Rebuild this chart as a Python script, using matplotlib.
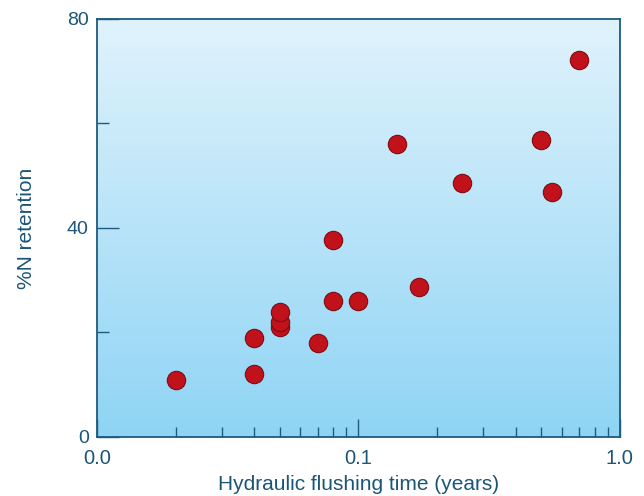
import numpy as np
import matplotlib.pyplot as plt
from matplotlib.colors import LinearSegmentedColormap

plt.rcParams['font.family'] = ['Liberation Sans', 'DejaVu Sans']

# flushing time (years) and %N retention
flush_time = [0.02, 0.04, 0.04, 0.05, 0.05, 0.05, 0.07, 0.08, 0.08,
              0.10, 0.14, 0.17, 0.25, 0.50, 0.55, 0.70]
n_retention = [11.0, 12.0, 19.0, 21.0, 22.0, 24.0, 18.0, 26.0, 37.7,
               26.0, 56.0, 28.7, 48.6, 56.8, 46.9, 72.2]

x_ticks = [0.01, 0.1, 1.0]
x_ticklabels = ['0.0', '0.1', '1.0']
y_ticks = [0, 40, 80]

txt = '#1b5577'
edge = '#1f5a7c'

fig = plt.figure(figsize=(6.44, 4.96), dpi=100)
ax = fig.add_axes([0.1506, 0.119, 0.812, 0.8427])

# vertical gradient background
cmap = LinearSegmentedColormap.from_list('bg', ['#8fd4f5', '#e0f3fc'])
grad = np.linspace(0, 1, 256).reshape(-1, 1)
ax.imshow(grad, aspect='auto', cmap=cmap, origin='lower',
          extent=[0, 1, 0, 1], transform=ax.transAxes, zorder=0)

ax.scatter(flush_time, n_retention, s=175, color='#c1121c',
           edgecolors='#7d0c12', linewidths=0.8, zorder=3)

ax.set_xscale('log')
ax.set_xlim(0.01, 1.0)
ax.set_ylim(0, 80)

ax.set_xticks(x_ticks)
ax.set_xticklabels(x_ticklabels)
minors = [v * d for d in (0.01, 0.1) for v in range(2, 10)]
ax.set_xticks(minors, minor=True)
ax.set_yticks(y_ticks)
ax.set_yticks([20, 60], minor=True)

ax.tick_params(axis='x', which='major', direction='in', length=13, width=1,
               color=edge, labelcolor=txt, labelsize=14.5, pad=9)
ax.tick_params(axis='x', which='minor', direction='in', length=7.2, width=1,
               color=edge)
ax.tick_params(axis='y', which='major', direction='in', length=16, width=1,
               color=edge, labelcolor=txt, labelsize=14, pad=6)
ax.tick_params(axis='y', which='minor', direction='in', length=8.6, width=1,
               color=edge)
ax.tick_params(top=False, right=False)

for sp in ax.spines.values():
    sp.set_color(edge)
    sp.set_linewidth(1.3)

ax.set_xlabel('Hydraulic flushing time (years)', color=txt, fontsize=15,
              labelpad=5)
ax.set_ylabel('%N retention', color=txt, fontsize=15, labelpad=22)

fig.savefig('out.png', dpi=100)
